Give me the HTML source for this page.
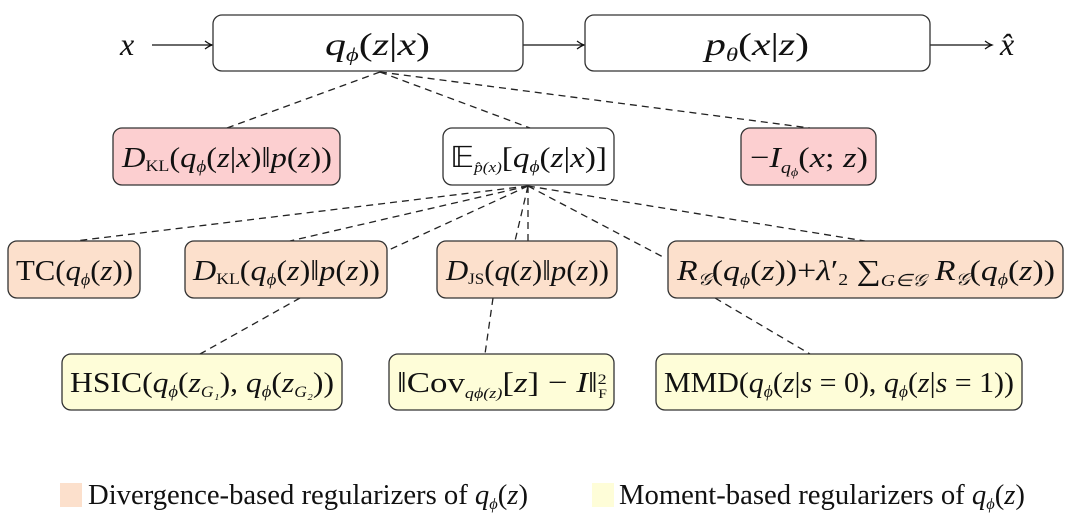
<!DOCTYPE html>
<html><head><meta charset="utf-8"><style>
html,body{margin:0;padding:0;background:#fff;}
svg{display:block;}
text{font-family:"Liberation Serif",serif;fill:#111;}
</style></head><body>
<svg width="1080" height="531" viewBox="0 0 1080 531" xmlns="http://www.w3.org/2000/svg">
<defs>
<marker id="ar" markerWidth="10" markerHeight="10" refX="8" refY="5" orient="auto" markerUnits="userSpaceOnUse">
<path d="M1,1 Q5,4 8,5 Q5,6 1,9" fill="none" stroke="#111" stroke-width="1.2"/>
</marker>
</defs>
<g stroke="#222" stroke-width="1.3" stroke-dasharray="7,5" fill="none">
<line x1="380" y1="72" x2="227" y2="128"/>
<line x1="380" y1="72" x2="530" y2="128"/>
<line x1="380" y1="72" x2="810" y2="128"/>
<line x1="528" y1="186" x2="75" y2="241"/>
<line x1="528" y1="186" x2="290" y2="241"/>
<line x1="528" y1="186" x2="380" y2="254"/>
<line x1="528" y1="186" x2="528" y2="241"/>
<line x1="528" y1="186" x2="515" y2="241"/>
<line x1="528" y1="186" x2="865" y2="241"/>
<line x1="528" y1="186" x2="665" y2="258"/>
<line x1="300" y1="298" x2="200" y2="354"/>
<line x1="493" y1="298" x2="485" y2="354"/>
<line x1="715" y1="298" x2="810" y2="354"/>
</g>
<g stroke="#111" stroke-width="1.3" fill="none">
<line x1="152" y1="45" x2="212" y2="45" marker-end="url(#ar)"/>
<line x1="523" y1="45" x2="584" y2="45" marker-end="url(#ar)"/>
<line x1="930" y1="45" x2="992" y2="45" marker-end="url(#ar)"/>
</g>
<g stroke="#333" stroke-width="1.3">
<rect x="213" y="15" width="310" height="56" rx="9" fill="#fff"/>
<rect x="585" y="15" width="345" height="56" rx="9" fill="#fff"/>
<rect x="113" y="128" width="227" height="57" rx="9" fill="#fccfd0"/>
<rect x="443" y="128" width="171" height="57" rx="9" fill="#fff"/>
<rect x="741" y="128" width="135" height="57" rx="9" fill="#fccfd0"/>
<rect x="8" y="241" width="132" height="57" rx="9" fill="#fce0cc"/>
<rect x="185" y="241" width="202" height="57" rx="9" fill="#fce0cc"/>
<rect x="437" y="241" width="180" height="57" rx="9" fill="#fce0cc"/>
<rect x="668" y="241" width="395" height="57" rx="9" fill="#fce0cc"/>
<rect x="62" y="354" width="280" height="56" rx="9" fill="#fefdd8"/>
<rect x="389" y="354" width="225" height="56" rx="9" fill="#fefdd8"/>
<rect x="656" y="354" width="366" height="56" rx="9" fill="#fefdd8"/>
</g>
<rect x="60" y="483" width="22" height="24" fill="#fce0cc"/>
<rect x="592" y="483" width="22" height="24" fill="#fefdd8"/>
<g font-size="32" font-style="italic">
<text x="120" y="55">x</text>
<text x="1000" y="55">x̂</text>
</g>
<g font-size="32">
<text x="325" y="55" textLength="105" lengthAdjust="spacingAndGlyphs"><tspan font-style="italic">q</tspan><tspan font-size="19" font-style="italic" dy="6">ϕ</tspan><tspan dy="-6">(</tspan><tspan font-style="italic">z</tspan>|<tspan font-style="italic">x</tspan>)</text>
<text x="705" y="55" textLength="104" lengthAdjust="spacingAndGlyphs"><tspan font-style="italic">p</tspan><tspan font-size="19" font-style="italic" dy="6">θ</tspan><tspan dy="-6">(</tspan><tspan font-style="italic">x</tspan>|<tspan font-style="italic">z</tspan>)</text>
</g>
<g font-size="29">
<text x="122" y="167" textLength="210" lengthAdjust="spacingAndGlyphs"><tspan font-style="italic">D</tspan><tspan font-size="16" dy="4">KL</tspan><tspan dy="-4">(</tspan><tspan font-style="italic">q</tspan><tspan font-size="17" font-style="italic" dy="5">ϕ</tspan><tspan dy="-5">(</tspan><tspan font-style="italic">z</tspan>|<tspan font-style="italic">x</tspan>)‖<tspan font-style="italic">p</tspan>(<tspan font-style="italic">z</tspan>))</text>
<text x="450" y="167" textLength="157" lengthAdjust="spacingAndGlyphs">𝔼<tspan font-size="15" font-style="italic" dy="5">p̂(x)</tspan><tspan dy="-5">[</tspan><tspan font-style="italic">q</tspan><tspan font-size="17" font-style="italic" dy="5">ϕ</tspan><tspan dy="-5">(</tspan><tspan font-style="italic">z</tspan>|<tspan font-style="italic">x</tspan>)]</text>
<text x="750" y="167" textLength="118" lengthAdjust="spacingAndGlyphs">−<tspan font-style="italic">I</tspan><tspan font-size="17" font-style="italic" dy="6">q</tspan><tspan font-size="12" font-style="italic" dy="3">ϕ</tspan><tspan dy="-9">(</tspan><tspan font-style="italic">x</tspan>; <tspan font-style="italic">z</tspan>)</text>
<text x="16" y="280" textLength="117" lengthAdjust="spacingAndGlyphs">TC(<tspan font-style="italic">q</tspan><tspan font-size="17" font-style="italic" dy="5">ϕ</tspan><tspan dy="-5">(</tspan><tspan font-style="italic">z</tspan>))</text>
<text x="193" y="280" textLength="187" lengthAdjust="spacingAndGlyphs"><tspan font-style="italic">D</tspan><tspan font-size="16" dy="4">KL</tspan><tspan dy="-4">(</tspan><tspan font-style="italic">q</tspan><tspan font-size="17" font-style="italic" dy="5">ϕ</tspan><tspan dy="-5">(</tspan><tspan font-style="italic">z</tspan>)‖<tspan font-style="italic">p</tspan>(<tspan font-style="italic">z</tspan>))</text>
<text x="446" y="280" textLength="163" lengthAdjust="spacingAndGlyphs"><tspan font-style="italic">D</tspan><tspan font-size="16" dy="4">JS</tspan><tspan dy="-4">(</tspan><tspan font-style="italic">q</tspan>(<tspan font-style="italic">z</tspan>)‖<tspan font-style="italic">p</tspan>(<tspan font-style="italic">z</tspan>))</text>
<text x="677" y="280" textLength="378" lengthAdjust="spacingAndGlyphs"><tspan font-style="italic">R</tspan><tspan font-size="17" font-style="italic" dy="5">𝒢</tspan><tspan dy="-5">(</tspan><tspan font-style="italic">q</tspan><tspan font-size="17" font-style="italic" dy="5">ϕ</tspan><tspan dy="-5">(</tspan><tspan font-style="italic">z</tspan>))+<tspan font-style="italic">λ</tspan>′<tspan font-size="17" dy="5">2</tspan><tspan dy="-5"> ∑</tspan><tspan font-size="17" font-style="italic" dy="6">G∈𝒢</tspan><tspan dy="-6"> </tspan><tspan font-style="italic">R</tspan><tspan font-size="17" font-style="italic" dy="5">𝒢</tspan><tspan dy="-5">(</tspan><tspan font-style="italic">q</tspan><tspan font-size="17" font-style="italic" dy="5">ϕ</tspan><tspan dy="-5">(</tspan><tspan font-style="italic">z</tspan>))</text>
<text x="70" y="392" textLength="264" lengthAdjust="spacingAndGlyphs">HSIC(<tspan font-style="italic">q</tspan><tspan font-size="17" font-style="italic" dy="5">ϕ</tspan><tspan dy="-5">(</tspan><tspan font-style="italic">z</tspan><tspan font-size="16" font-style="italic" dy="5">G₁</tspan><tspan dy="-5">), </tspan><tspan font-style="italic">q</tspan><tspan font-size="17" font-style="italic" dy="5">ϕ</tspan><tspan dy="-5">(</tspan><tspan font-style="italic">z</tspan><tspan font-size="16" font-style="italic" dy="5">G₂</tspan><tspan dy="-5">))</tspan></text>
<text x="397" y="392" textLength="210" lengthAdjust="spacingAndGlyphs">‖Cov<tspan font-size="15" font-style="italic" dy="6">qϕ(z)</tspan><tspan dy="-6">[</tspan><tspan font-style="italic">z</tspan>] − <tspan font-style="italic">I</tspan>‖<tspan font-size="15" dy="-8">2</tspan><tspan font-size="13" dx="-7" dy="14">F</tspan></text>
<text x="664" y="392" textLength="350" lengthAdjust="spacingAndGlyphs">MMD(<tspan font-style="italic">q</tspan><tspan font-size="17" font-style="italic" dy="5">ϕ</tspan><tspan dy="-5">(</tspan><tspan font-style="italic">z</tspan>|<tspan font-style="italic">s</tspan> = 0), <tspan font-style="italic">q</tspan><tspan font-size="17" font-style="italic" dy="5">ϕ</tspan><tspan dy="-5">(</tspan><tspan font-style="italic">z</tspan>|<tspan font-style="italic">s</tspan> = 1))</text>
</g>
<g font-size="28">
<text x="88" y="504" textLength="440" lengthAdjust="spacingAndGlyphs">Divergence-based regularizers of <tspan font-style="italic">q</tspan><tspan font-size="16" font-style="italic" dy="5">ϕ</tspan><tspan dy="-5">(</tspan><tspan font-style="italic">z</tspan>)</text>
<text x="619" y="504" textLength="406" lengthAdjust="spacingAndGlyphs">Moment-based regularizers of <tspan font-style="italic">q</tspan><tspan font-size="16" font-style="italic" dy="5">ϕ</tspan><tspan dy="-5">(</tspan><tspan font-style="italic">z</tspan>)</text>
</g>
</svg>
</body></html>
